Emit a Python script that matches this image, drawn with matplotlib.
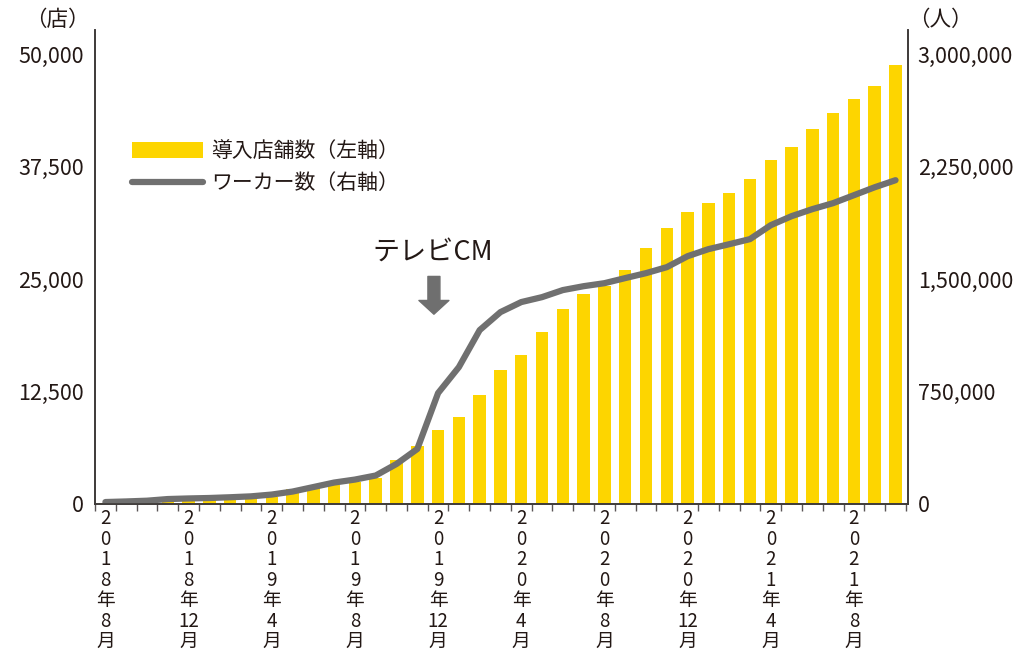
import matplotlib
matplotlib.use("Agg")
import matplotlib.pyplot as plt
from matplotlib.patches import Patch
from matplotlib.lines import Line2D
import numpy as np

plt.rcParams['font.family'] = ['Noto Sans CJK JP', 'DejaVu Sans']

# monthly data, 2018/8 - 2021/10
months = ['2018年8月', '2018年9月', '2018年10月', '2018年11月', '2018年12月',
          '2019年1月', '2019年2月', '2019年3月', '2019年4月', '2019年5月',
          '2019年6月', '2019年7月', '2019年8月', '2019年9月', '2019年10月',
          '2019年11月', '2019年12月', '2020年1月', '2020年2月', '2020年3月',
          '2020年4月', '2020年5月', '2020年6月', '2020年7月', '2020年8月',
          '2020年9月', '2020年10月', '2020年11月', '2020年12月', '2021年1月',
          '2021年2月', '2021年3月', '2021年4月', '2021年5月', '2021年6月',
          '2021年7月', '2021年8月', '2021年9月', '2021年10月']
stores = [100, 150, 200, 250, 300, 420, 530, 650, 800, 1670,
          1750, 2100, 2480, 2930, 4890, 6440, 8220, 9670, 12110, 14890,
          16560, 19110, 21670, 23330, 24220, 26000, 28440, 30670, 32440, 33440,
          34560, 36110, 38220, 39670, 41670, 43440, 45000, 46440, 48780]
workers = [13000, 17000, 22000, 33000, 37000, 40000, 45000, 51000, 63000, 83000,
           113000, 143000, 163000, 190000, 267000, 367000, 740000, 913000, 1160000, 1280000,
           1347000, 1380000, 1427000, 1453000, 1473000, 1507000, 1540000, 1580000, 1653000, 1700000,
           1733000, 1767000, 1860000, 1920000, 1967000, 2007000, 2060000, 2113000, 2160000]
left_ticks = [0, 12500, 25000, 37500, 50000]
right_ticks = [0, 750000, 1500000, 2250000, 3000000]
label_every = 4

BAR = '#FDD500'
LINE = '#707070'
TXT = '#231815'
AXC = '#3e3a39'

fig = plt.figure(figsize=(10.33, 6.52), dpi=100)
ax = fig.add_axes([95 / 1033, 148 / 652, 813 / 1033, 474 / 652])
ax2 = ax.twinx()

x = np.arange(len(months))
ax.bar(x, stores, width=0.6, color=BAR, zorder=2)
ax2.plot(x, workers, color=LINE, lw=4.5, solid_capstyle='round', solid_joinstyle='round')

ax.set_xlim(-0.48, len(months) - 0.4)
ax.set_ylim(0, 52700)
ax2.set_ylim(0, 3162000)

ax.set_yticks(left_ticks)
ax.set_yticklabels([f'{v:,}' for v in left_ticks])
ax2.set_yticks(right_ticks)
ax2.set_yticklabels([f'{v:,}' for v in right_ticks])
ax.tick_params(axis='y', length=0, pad=8, labelsize=15.5, labelcolor=TXT)
ax2.tick_params(axis='y', length=0, pad=7, labelsize=15.5, labelcolor=TXT)

# vertical stacked month labels
pos = x[::label_every]
labels = []
for m in months[::label_every]:
    y, mo = m.split('年')
    labels.append('\n'.join(list(y) + ['年', mo.rstrip('月'), '月']))
ax.set_xticks(pos)
ax.set_xticklabels(labels)
ax.tick_params(axis='x', which='major', length=0, pad=3, labelsize=13.5, labelcolor=TXT)
for t in ax.get_xticklabels():
    t.set_linespacing(0.97)
ax.set_xticks(np.arange(-0.5, len(months), 1.0), minor=True)
ax.tick_params(axis='x', which='minor', length=5, width=1, color='#5a5556', direction='out')

for a in (ax, ax2):
    a.spines['top'].set_visible(False)
    for s in ('left', 'right', 'bottom'):
        a.spines[s].set_color(AXC)
        a.spines[s].set_linewidth(1.2)

fig.text(90 / 1033, 1 - 20 / 652, '（店）', ha='right', va='center', fontsize=15.5, color=TXT)
fig.text(908 / 1033, 1 - 20 / 652, '（人）', ha='left', va='center', fontsize=15.5, color=TXT)

# TV commercial marker
ax.text(15.75, 28000, 'テレビCM', ha='center', va='center', fontsize=19.5, color=TXT)
ax.annotate('', xy=(15.8, 21100), xytext=(15.8, 25300),
            arrowprops=dict(arrowstyle='simple,head_length=0.55,head_width=1.2,tail_width=0.48',
                            mutation_scale=18, color='#6f6f6f', shrinkA=0, shrinkB=0))

handles = [Patch(facecolor=BAR, edgecolor='none'),
           Line2D([], [], color=LINE, lw=4.5, solid_capstyle='round')]
ax2.legend(handles, ['導入店舗数（左軸）', 'ワーカー数（右軸）'],
           loc='upper left', bbox_to_anchor=(0.046, 0.768), frameon=False,
           fontsize=15, handlelength=3.4, handleheight=0.8, handletextpad=0.4,
           labelspacing=0.5, borderpad=0, borderaxespad=0, labelcolor=TXT)

fig.savefig('out.png', dpi=100)
